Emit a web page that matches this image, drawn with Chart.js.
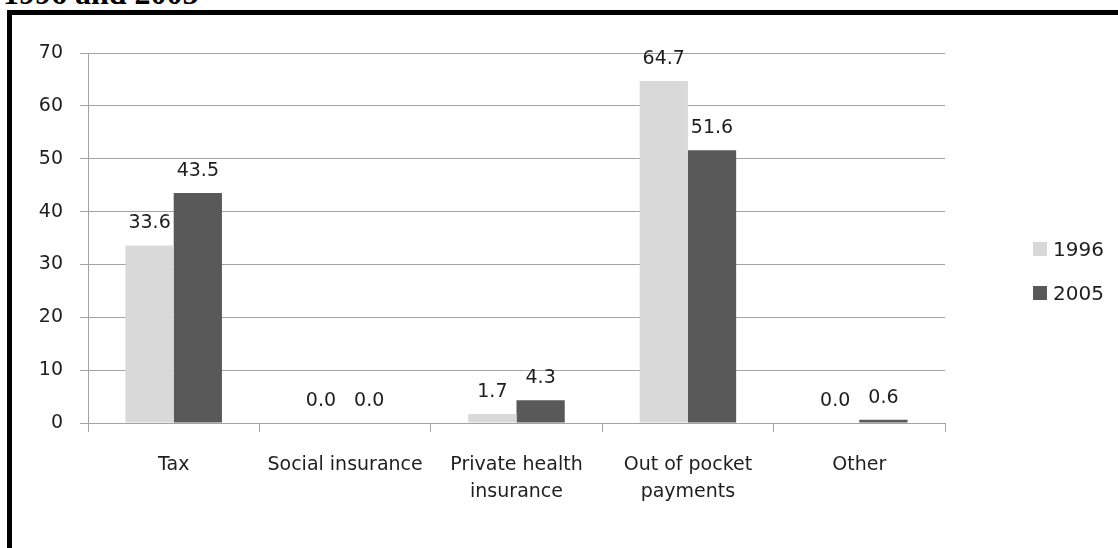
<!DOCTYPE html>
<html>
<head>
<meta charset="utf-8">
<script src="https://cdn.jsdelivr.net/npm/chart.js@4.4.1/dist/chart.umd.min.js"></script>
<style>
    html, body { margin: 0; padding: 0; background: #fff; }
    body { width: 1118px; height: 548px; position: relative; overflow: hidden; }
    #title {
        position: absolute; left: 3px; top: -23px;
        font: bold 32px "Liberation Serif", "Times New Roman", serif;
        line-height: 32px; white-space: nowrap; color: #000;
    }
    #frame {
        position: absolute; left: 7px; top: 10px; width: 1200px; height: 600px;
        border-left: 5px solid #000; border-top: 5px solid #000;
        z-index: 2;
    }
    #chart-wrap { position: absolute; left: 0; top: 0; width: 1118px; height: 548px; z-index: 1; }
    #legend { position: absolute; left: 1033px; top: 237px; z-index: 3; }
    .legend-item { height: 44px; display: flex; align-items: flex-start; font: 20px "DejaVu Sans", sans-serif; color: #1e1e1e; }
    .legend-box { width: 14px; height: 14px; margin-top: 5px; margin-right: 6px; }
</style>
</head>
<body>
<div id="title">1996 and 2005</div>
<div id="frame"></div>
<div id="chart-wrap"><canvas id="category-chart"></canvas></div>
<div id="legend"></div>

<script>
// categories and values (percent of total health financing)
const categories = ["Tax", "Social insurance", ["Private health", "insurance"], ["Out of pocket", "payments"], "Other"];
const series_labels = ["1996", "2005"];
const values_1996 = [33.6, 0.0, 1.7, 64.7, 0.0];
const values_2005 = [43.5, 0.0, 4.3, 51.6, 0.6];
const y_ticks = [0, 10, 20, 30, 40, 50, 60, 70];

const colors = ["#d9d9d9", "#595959"];
const grid_color = "#a3a3a3";
const text_color = "#1e1e1e";
const font_family = '"DejaVu Sans", sans-serif';

// value labels above each bar
const barValues = {
    id: "barValues",
    afterDatasetsDraw(chart) {
        const ctx = chart.ctx;
        ctx.save();
        ctx.font = "19px " + font_family;
        ctx.fillStyle = text_color;
        ctx.textAlign = "center";
        ctx.textBaseline = "middle";
        chart.data.datasets.forEach((ds, i) => {
            chart.getDatasetMeta(i).data.forEach((bar, j) => {
                ctx.fillText(ds.data[j].toFixed(1), bar.x, bar.y - 22);
            });
        });
        ctx.restore();
    }
};

window.addEventListener("load", () => {
    renderChart();
});

function renderChart() {
    const chart_ctx = document.getElementById("category-chart");

    const chart = new Chart(chart_ctx, {
        type: "bar",
        data: {
            labels: categories,
            datasets: [{
                label: series_labels[0],
                data: values_1996,
                backgroundColor: colors[0],
                borderWidth: 0
            }, {
                label: series_labels[1],
                data: values_2005,
                backgroundColor: colors[1],
                borderWidth: 0
            }]
        },
        options: {
            responsive: true,
            maintainAspectRatio: false,
            animation: false,
            datasets: { bar: { categoryPercentage: 0.563, barPercentage: 1.0 } },
            layout: { padding: { top: 53, right: 173, left: 0, bottom: 0 } },
            plugins: {
                legend: { display: false },
                tooltip: { enabled: false }
            },
            scales: {
                x: {
                    offset: true,
                    grid: {
                        offset: true,
                        drawOnChartArea: false,
                        drawTicks: true,
                        tickLength: 9,
                        color: grid_color
                    },
                    border: { display: true, color: grid_color, width: 1 },
                    ticks: {
                        color: text_color,
                        padding: 20,
                        maxRotation: 0,
                        autoSkip: false,
                        font: { family: font_family, size: 19, lineHeight: 1.4 }
                    },
                    afterFit: (scale) => { scale.height = 125; }
                },
                y: {
                    min: 0,
                    max: 70,
                    afterBuildTicks: (scale) => { scale.ticks = y_ticks.map((v) => ({ value: v })); },
                    grid: { color: grid_color, tickLength: 8, drawTicks: true },
                    border: { display: true, color: grid_color, width: 1 },
                    ticks: {
                        color: text_color,
                        padding: 17,
                        font: { family: font_family, size: 19 }
                    },
                    afterFit: (scale) => { scale.width = 88; }
                }
            }
        },
        plugins: [barValues]
    });

    // legend as html, from the datasets
    const legend = document.getElementById("legend");
    chart.data.datasets.forEach((ds) => {
        const item = document.createElement("div");
        item.className = "legend-item";
        const box = document.createElement("div");
        box.className = "legend-box";
        box.style.background = ds.backgroundColor;
        const txt = document.createElement("span");
        txt.textContent = ds.label;
        item.appendChild(box);
        item.appendChild(txt);
        legend.appendChild(item);
    });
}
</script>
</body>
</html>
